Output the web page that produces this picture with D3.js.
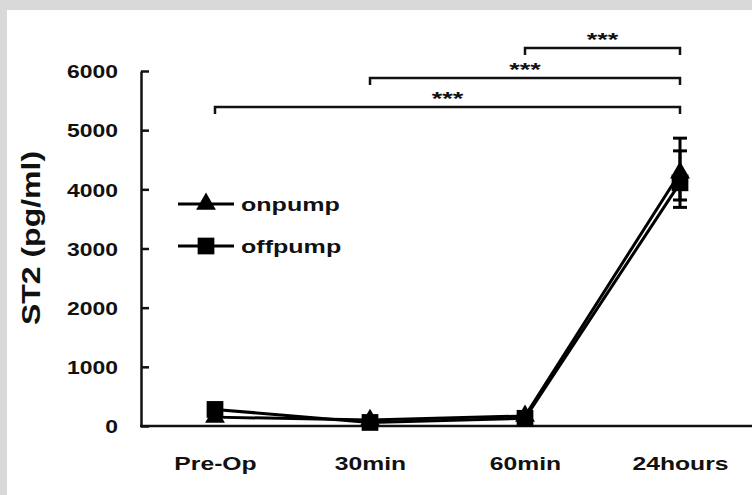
<!DOCTYPE html>
<html>
<head>
<meta charset="utf-8">
<script src="https://cdn.jsdelivr.net/npm/d3@7"></script>
<style>
  body { margin: 0; background: #d9d9d9; }
  #chart { position: absolute; left: 0; top: 0; }
  text { font-family: "Liberation Sans", Arial, sans-serif; font-weight: bold; fill: #111; }
</style>
</head>
<body>
<div id="chart"></div>
<script>
// data
const categories = ["Pre-Op", "30min", "60min", "24hours"];
const onpump = [150, 100, 170, 4280];
const onpumpErrUp = [40, 40, 40, 585];
const onpumpErrDown = [40, 40, 40, 585];
const offpump = [280, 60, 130, 4110];
const offpumpErrUp = [40, 30, 40, 540];
const offpumpErrDown = [40, 30, 40, 290];
const yTicks = [0, 1000, 2000, 3000, 4000, 5000, 6000];
// significance brackets : from category, to category, label
const brackets = [
  ["Pre-Op", "24hours", "***"],
  ["30min", "24hours", "***"],
  ["60min", "24hours", "***"]
];

const W = 752, H = 495;

const svg = d3.select("#chart").append("svg")
  .attr("width", W)
  .attr("height", H);

// the fonts of the figure are wider than Arial, stretch the texts
function stretch(sel, sx) {
  sel.each(function() {
    const t = d3.select(this);
    const tx = +t.attr("x") || 0, ty = +t.attr("y") || 0;
    t.attr("x", 0).attr("y", 0)
      .attr("transform", "translate(" + tx + "," + ty + ") scale(" + sx + ",1)");
  });
}

// white panel
svg.append("rect")
  .attr("x", 7).attr("y", 10)
  .attr("width", W - 7).attr("height", H - 10)
  .attr("fill", "#fff");

const x = d3.scalePoint()
  .domain(categories)
  .range([215, 680]);

const y = d3.scaleLinear()
  .domain([0, 6000])
  .range([426, 71]);

// y axis
const yAxis = svg.append("g")
  .attr("transform", "translate(141,0)")
  .call(d3.axisLeft(y).tickValues(yTicks).tickFormat(d3.format("d"))
    .tickSizeInner(-8).tickSizeOuter(0).tickPadding(23));
yAxis.select(".domain").attr("stroke", "#111").attr("stroke-width", 2.5);
yAxis.selectAll(".tick line").attr("stroke", "#111").attr("stroke-width", 2.5);
yAxis.selectAll(".tick text")
  .style("font-size", "18.5px")
  .attr("dy", "0.36em")
  .call(stretch, 1.24);

// x axis
svg.append("line")
  .attr("x1", 140).attr("x2", W)
  .attr("y1", y(0)).attr("y2", y(0))
  .attr("stroke", "#111").attr("stroke-width", 2.5);
const xAxis = svg.append("g")
  .attr("transform", "translate(0," + y(0) + ")")
  .call(d3.axisBottom(x).tickSize(0).tickPadding(31));
xAxis.select(".domain").remove();
xAxis.selectAll(".tick text")
  .style("font-size", "19px")
  .call(stretch, 1.3);

// y title
svg.append("text")
  .attr("transform", "translate(40,238) rotate(-90) scale(1.28,1)")
  .attr("text-anchor", "middle")
  .style("font-size", "25px")
  .text("ST2 (pg/ml)");

const line = d3.line()
  .x((d, i) => x(categories[i]))
  .y(d => y(d));

function drawSeries(values, errUp, errDown, symbolType, size) {
  const g = svg.append("g");
  g.append("path")
    .datum(values)
    .attr("d", line)
    .attr("fill", "none")
    .attr("stroke", "#000")
    .attr("stroke-width", 3);
  values.forEach(function(v, i) {
    const cx = x(categories[i]);
    const top = y(v + errUp[i]), bot = y(v - errDown[i]);
    g.append("line")
      .attr("x1", cx).attr("x2", cx)
      .attr("y1", top).attr("y2", bot)
      .attr("stroke", "#000").attr("stroke-width", 3);
    [top, bot].forEach(function(cy) {
      g.append("line")
        .attr("x1", cx - 7).attr("x2", cx + 7)
        .attr("y1", cy).attr("y2", cy)
        .attr("stroke", "#000").attr("stroke-width", 3);
    });
    g.append("path")
      .attr("d", d3.symbol().type(symbolType).size(size))
      .attr("transform", "translate(" + cx + "," + y(v) + ")")
      .attr("fill", "#000");
  });
}

drawSeries(offpump, offpumpErrUp, offpumpErrDown, d3.symbolSquare, 280);
drawSeries(onpump, onpumpErrUp, onpumpErrDown, d3.symbolTriangle, 170);

// legend
const legend = [["onpump", d3.symbolTriangle, 170, 204], ["offpump", d3.symbolSquare, 280, 246]];
legend.forEach(function(l) {
  svg.append("line")
    .attr("x1", 178).attr("x2", 234)
    .attr("y1", l[3]).attr("y2", l[3])
    .attr("stroke", "#000").attr("stroke-width", 3);
  svg.append("path")
    .attr("d", d3.symbol().type(l[1]).size(l[2]))
    .attr("transform", "translate(206," + l[3] + ")")
    .attr("fill", "#000");
  svg.append("text")
    .attr("x", 241).attr("y", l[3] + 7)
    .style("font-size", "19px")
    .text(l[0])
    .call(stretch, 1.32);
});

// significance brackets
const bracketY = [107, 78, 48];
brackets.forEach(function(b, i) {
  const x1 = x(b[0]), x2 = x(b[1]), by = bracketY[i];
  svg.append("path")
    .attr("d", "M" + x1 + "," + (by + 7) + "V" + by + "H" + x2 + "V" + (by + 7))
    .attr("fill", "none")
    .attr("stroke", "#111")
    .attr("stroke-width", 2.5);
  svg.append("text")
    .attr("x", (x1 + x2) / 2)
    .attr("y", by - 2)
    .attr("text-anchor", "middle")
    .style("font-size", "18px")
    .text(b[2])
    .call(stretch, 1.5);
});
</script>
</body>
</html>
